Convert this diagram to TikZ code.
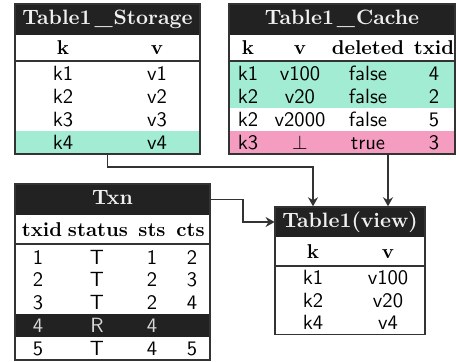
\documentclass[tikz,border=0pt]{standalone}
\usetikzlibrary{arrows.meta,fit}
\definecolor{dark}{HTML}{222222}
\definecolor{mint}{HTML}{A2ECD3}
\definecolor{pinkish}{HTML}{F59DC0}
\definecolor{frame}{HTML}{333333}
\begin{document}
\begin{tikzpicture}[x=0.5pt,y=-0.5pt,
  titletext/.style={text=white!94!black,font=\bfseries\fontsize{10.4}{12}\selectfont,inner sep=0,text height=1.6ex,text depth=0.4ex},
  head/.style={font=\bfseries\fontsize{10}{12}\selectfont,inner sep=0,text height=1.6ex,text depth=0pt},
  cell/.style={font=\sffamily\fontsize{10.3}{12}\selectfont,inner sep=0,text height=1.55ex,text depth=0pt},
  darkcell/.style={cell,text=white!85!black},
  band/.style={inner sep=0,draw=none},
  tbl/.style={draw=frame,line width=0.7pt,inner sep=0},
  sep/.style={draw=frame,line width=0.7pt},
  conn/.style={draw=frame,line width=0.7pt,-{Stealth[length=4.5pt,width=5pt]}},
]
\useasboundingbox (0,0) rectangle (456,362);

% ---------------- Table1_Storage ----------------
\node[band,fill=dark,fit={(15,4)(200,35)}] (st) {};
\node[band,fill=mint,fit={(15,131)(200,154)}] (sg) {};
\node[titletext] (stt) at (107.5,19.5) {Table1\kern1.5pt\_\kern0.5pt Storage};
\node[head] (sh1) at (63,48) {k};
\node[head] (sh2) at (157,48) {v};
\foreach \k/\v [count=\i] in {k1/v1,k2/v2,k3/v3,k4/v4}{
  \node[cell] (s\i a) at (63,{62+23*(\i-0.5)}) {\k};
  \node[cell] (s\i b) at (157,{62+23*(\i-0.5)}) {\v};
}
\node[tbl,fit={(15,4)(200,154)}] (storage) {};
\draw[sep] (storage.west |- 0,61) -- (storage.east |- 0,61);

% ---------------- Table1_Cache ----------------
\node[band,fill=dark,fit={(229,4)(455,35)}] (ct) {};
\node[band,fill=mint,fit={(229,62)(455,108)}] (cg) {};
\node[band,fill=pinkish,fit={(229,131)(455,154)}] (cp) {};
\node[titletext] (ctt) at (342,19.5) {Table1\kern1.5pt\_\kern0.5pt Cache};
\node[head] (ch1) at (248,48) {k};
\node[head] (ch2) at (300,48) {v};
\node[head] (ch3) at (368,48) {deleted};
\node[head] (ch4) at (434,48) {txid};
\foreach \a/\b/\c/\d [count=\i] in {k1/v100/false/4,k2/v20/false/2,k2/v2000/false/5,k3/{$\bot$}/true/3}{
  \node[cell] (c\i a) at (248,{62+23*(\i-0.5)}) {\a};
  \node[cell] (c\i b) at (300,{62+23*(\i-0.5)}) {\b};
  \node[cell] (c\i c) at (368,{62+23*(\i-0.5)}) {\c};
  \node[cell] (c\i d) at (434,{62+23*(\i-0.5)}) {\d};
}
\node[tbl,fit={(229,4)(455,154)}] (cache) {};
\draw[sep] (cache.west |- 0,61) -- (cache.east |- 0,61);

% ---------------- Txn ----------------
\node[band,fill=dark,fit={(15,184)(210,215)}] (tt) {};
\node[band,fill=dark,fit={(15,314.4)(210,337.2)}] (tr4) {};
\node[titletext] (ttt) at (112.5,199.5) {Txn};
\node[head] (th1) at (42,230) {txid};
\node[head] (th2) at (98,230) {status};
\node[head] (th3) at (152,230) {sts};
\node[head] (th4) at (190.5,230) {cts};
\foreach \a/\b/\c/\d [count=\i] in {1/T/1/2,2/T/2/3,3/T/2/4,5/T/4/5}{
  \pgfmathsetmacro{\rr}{\i<4 ? \i : 5}
  \node[cell] (t\i a) at (38,{246+22.8*(\rr-0.5)}) {\a};
  \node[cell] (t\i b) at (97,{246+22.8*(\rr-0.5)}) {\b};
  \node[cell] (t\i c) at (152,{246+22.8*(\rr-0.5)}) {\c};
  \node[cell] (t\i d) at (192,{246+22.8*(\rr-0.5)}) {\d};
}
\node[darkcell] (r4a) at (38,{246+22.8*3.5}) {4};
\node[darkcell] (r4b) at (97,{246+22.8*3.5}) {R};
\node[darkcell] (r4c) at (152,{246+22.8*3.5}) {4};
\node[tbl,fit={(15,184)(210,360)}] (txn) {};
\draw[sep] (txn.west |- 0,244) -- (txn.east |- 0,244);

% ---------------- Table1(view) ----------------
\node[band,fill=dark,fit={(275,207)(425,237)}] (vt) {};
\node[titletext] (vtt) at (350,222) {Table1(view)};
\node[head] (vk) at (313,252) {k};
\node[head] (vv) at (388,252) {v};
\foreach \a/\b [count=\i] in {k1/v100,k2/v20,k4/v4}{
  \node[cell] (v\i a) at (313,{267+22.5*(\i-0.5)}) {\a};
  \node[cell] (v\i b) at (388,{267+22.5*(\i-0.5)}) {\b};
}
\node[tbl,fit={(275,207)(425,334.5)}] (view) {};
\draw[sep] (view.west |- 0,266) -- (view.east |- 0,266);

% ---------------- connectors ----------------
\coordinate (ybend) at (0,167);
\coordinate (xbend) at (243,0);
\draw[conn] (storage.south) |- (ybend -| vk) -- (view.north -| vk);
\draw[conn] (cache.south -| vv) -- (view.north -| vv);
\draw[conn] (tt.east) -| (xbend |- vt) -- (vt.west);
\end{tikzpicture}
\end{document}
